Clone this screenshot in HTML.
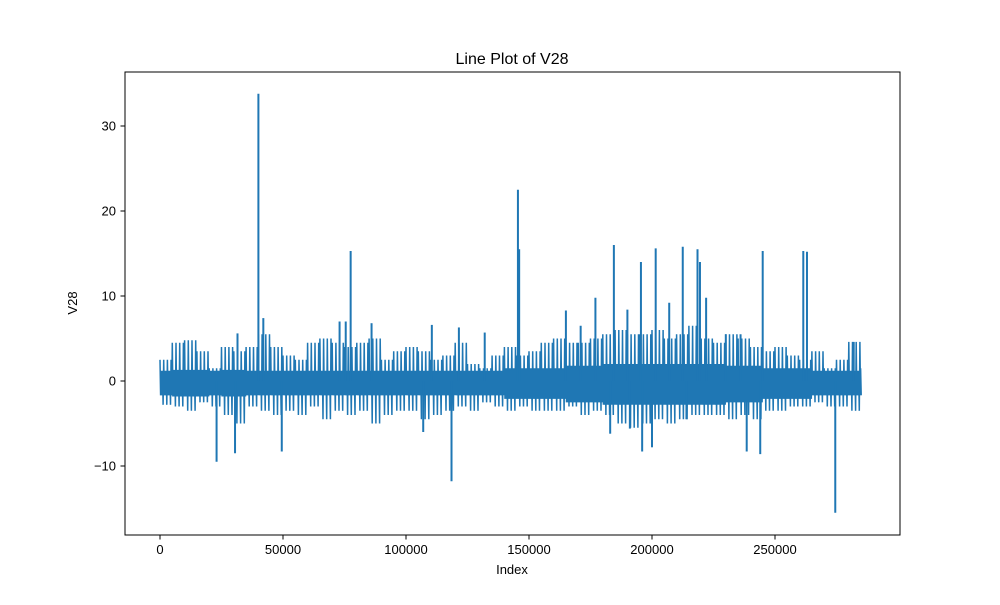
<!DOCTYPE html>
<html><head><meta charset="utf-8"><style>
body{margin:0;background:#fff;}
svg text{font-family:"Liberation Sans",sans-serif;fill:#000;}
</style></head><body>
<svg id="chart" width="1000" height="600" viewBox="0 0 1000 600">
<rect width="1000" height="600" fill="#fff"/>
<text x="512" y="64" font-size="16" text-anchor="middle">Line Plot of V28</text>
<g id="plot"></g>
<rect x="125" y="72" width="775" height="463" fill="none" stroke="#000" stroke-width="1"/>
<g id="xt"></g>
<g id="yt"></g>
<text x="512" y="574" font-size="13" text-anchor="middle">Index</text>
<text x="77" y="303" font-size="13" text-anchor="middle" transform="rotate(-90 77 303)">V28</text>
</svg>
<script>
const binSize = 5000;
const bandHi = [2.5,4.5,4.8,3.5,1.5,4,3.5,4,5.5,4,3,2.5,4.5,5,4.5,4,4.5,5,2.5,3.5,4,3.5,2.5,3,4.5,2,1.5,3,4,3,3.5,4.5,5,4.5,4.5,5,5.5,6,5.5,5.5,6,5,5.5,6.5,5,4.5,5.5,5,4,3.5,4,3,2.5,3.5,1.5,2.5,4.6,1.5];
const bandLo = [-2.8,-3,-3.5,-2.5,-3,-4,-5,-3,-3.5,-4,-3.5,-4,-3,-4.5,-3.5,-4,-3.5,-5,-4,-3.5,-3.5,-4.5,-4,-3.5,-3,-3.5,-2.5,-3,-3.5,-3,-3.5,-3.5,-3.5,-3,-4,-3.5,-4,-5,-5.5,-5,-4.5,-5,-4.5,-4,-4,-4,-4.5,-4,-4.5,-3.5,-3.5,-3,-3,-2.5,-3,-3,-3.5,-3];
const bandCore = [1.2,1.3,1.3,1.3,1.2,1.3,1.3,1.2,1.2,1.2,1.2,1.2,1.2,1.2,1.2,1.2,1.2,1.2,1.2,1.2,1.2,1.2,1.2,1.2,1.2,1.2,1.2,1.2,1.5,1.5,1.5,1.5,1.5,1.8,1.8,1.8,2,2,2,2,2,2,2,2,2,2,1.8,1.8,1.8,1.5,1.5,1.5,1.5,1.2,1.2,1.2,1.2,1.2];
const spikeIdx = [40000,23000,30500,31500,42000,49500,77500,73000,75500,86000,118500,110500,121500,132000,145500,146000,165000,171000,177000,184500,190000,195500,196000,201500,207000,212500,218500,219500,222000,238500,244000,245000,261500,263000,274500,282000,230000,236000,214000,200000,191000,183000,107000];
const spikeVal = [33.8,-9.5,-8.5,5.6,7.4,-8.3,15.3,7,7,6.8,-11.8,6.6,6.3,5.7,22.5,15.5,8.3,6.5,9.8,16,8.4,14,-8.3,15.6,9.2,15.8,15.5,14,9.8,-8.3,-8.6,15.3,15.3,15.2,-15.5,4.6,5.5,5.5,-4.5,-7.8,-5.6,-6.2,-6];
const xTicks = [0,50000,100000,150000,200000,250000];
const yTicks = [-10,0,10,20,30];
const xMax = 284807;

const sx = v => 160 + v * (615/250000);
const sy = v => 381 - v * 8.5;
const NS = "http://www.w3.org/2000/svg";
const plot = document.getElementById('plot');
let d = "";
const steps = 10;
for (let b = 0; b < bandHi.length; b++) {
  const x0 = b * binSize;
  for (let k = 0; k < steps; k++) {
    const xi = Math.min(x0 + k * binSize / steps, xMax);
    const hi = (k % 3 === 0) ? bandHi[b] : bandCore[b];
    const lo = (k % 3 === 2) ? bandLo[b] : -bandCore[b] * 1.4;
    d += (d ? "L" : "M") + sx(xi).toFixed(1) + "," + sy(hi).toFixed(1);
    d += "L" + sx(xi + binSize / steps / 2).toFixed(1) + "," + sy(lo).toFixed(1);
    if (xi >= xMax) break;
  }
}
const band = document.createElementNS(NS, 'path');


band.setAttribute('d', d);
band.setAttribute('fill', 'none');
band.setAttribute('stroke', '#1f77b4');
band.setAttribute('stroke-width', '1.5');
plot.appendChild(band);
for (let i = 0; i < spikeIdx.length; i++) {
  const ln = document.createElementNS(NS, 'line');
  
  
  ln.setAttribute('x1', sx(spikeIdx[i])); ln.setAttribute('x2', sx(spikeIdx[i]));
  ln.setAttribute('y1', sy(0)); ln.setAttribute('y2', sy(spikeVal[i]));
  ln.setAttribute('stroke', '#1f77b4'); ln.setAttribute('stroke-width', '2');
  plot.appendChild(ln);
}
const xt = document.getElementById('xt');
xTicks.forEach(v => {
  const t = document.createElementNS(NS, 'line');
  
  
  t.setAttribute('x1', sx(v)); t.setAttribute('x2', sx(v));
  t.setAttribute('y1', 535); t.setAttribute('y2', 539.5);
  t.setAttribute('stroke', '#000');
  xt.appendChild(t);
  const tx = document.createElementNS(NS, 'text');
  
  
  tx.setAttribute('x', sx(v)); tx.setAttribute('y', 554);
  tx.setAttribute('font-size', '13'); tx.setAttribute('text-anchor', 'middle');
  tx.textContent = v;
  xt.appendChild(tx);
});
const yt = document.getElementById('yt');
yTicks.forEach(v => {
  const t = document.createElementNS(NS, 'line');
  
  
  t.setAttribute('x1', 120.5); t.setAttribute('x2', 125);
  t.setAttribute('y1', sy(v)); t.setAttribute('y2', sy(v));
  t.setAttribute('stroke', '#000');
  yt.appendChild(t);
  const tx = document.createElementNS(NS, 'text');
  
  
  tx.setAttribute('x', 116); tx.setAttribute('y', sy(v) + 4.5);
  tx.setAttribute('font-size', '13'); tx.setAttribute('text-anchor', 'end');
  tx.textContent = v < 0 ? '\u2212' + Math.abs(v) : v;
  yt.appendChild(tx);
});
</script>
</body></html>
